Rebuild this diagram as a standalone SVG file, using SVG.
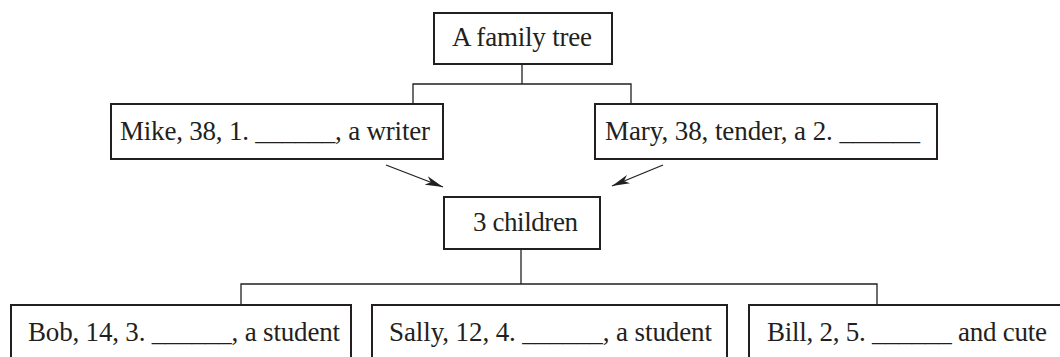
<svg xmlns="http://www.w3.org/2000/svg" width="1060" height="357" viewBox="0 0 1060 357">
<style>
.box{fill:#fff;stroke:#231f20;stroke-width:2}
.t{font-family:"Liberation Serif","Times New Roman",serif;font-size:27px;fill:#231f20}
.c{fill:none;stroke:#231f20;stroke-width:1.3}
</style>
<defs>
<marker id="ah" viewBox="0 0 18 10" refX="18" refY="5" markerWidth="18" markerHeight="10" markerUnits="userSpaceOnUse" orient="auto">
<path d="M0,0.5 L18,5 L0,9.5 L5,5 Z" fill="#231f20"/>
</marker>
</defs>
<rect width="1060" height="357" fill="#fff"/>
<g id="connectors">
<path class="c" d="M522 64 V84"/>
<path class="c" d="M413 104 V84 H631 V104"/>
<path class="c" d="M521 249 V284"/>
<path class="c" d="M241 305 V284 H877 V305"/>
<path class="c" d="M386 165 L443 187" marker-end="url(#ah)"/>
<path class="c" d="M663 165 L612 186" marker-end="url(#ah)"/>
</g>
<g id="family-tree">
<rect class="box" x="434" y="13" width="178" height="51"/>
<text class="t" x="452" y="46" textLength="140">A family tree</text>
</g>
<g id="mike">
<rect class="box" x="111" y="104" width="332" height="55"/>
<text class="t" x="120" y="140" textLength="310">Mike, 38, 1. ______, a writer</text>
</g>
<g id="mary">
<rect class="box" x="595" y="104" width="342" height="55"/>
<text class="t" x="605" y="140" textLength="315">Mary, 38, tender, a 2. ______</text>
</g>
<g id="children">
<rect class="box" x="444" y="197" width="156" height="52"/>
<text class="t" x="473" y="231" textLength="105">3 children</text>
</g>
<g id="bob">
<rect class="box" x="11" y="305" width="340" height="60"/>
<text class="t" x="28" y="341" textLength="312">Bob, 14, 3. ______, a student</text>
</g>
<g id="sally">
<rect class="box" x="372" y="305" width="355" height="60"/>
<text class="t" x="389" y="341" textLength="323">Sally, 12, 4. ______, a student</text>
</g>
<g id="bill">
<rect class="box" x="749" y="305" width="320" height="60"/>
<text class="t" x="767" y="341" textLength="280">Bill, 2, 5. ______ and cute</text>
</g>
</svg>
